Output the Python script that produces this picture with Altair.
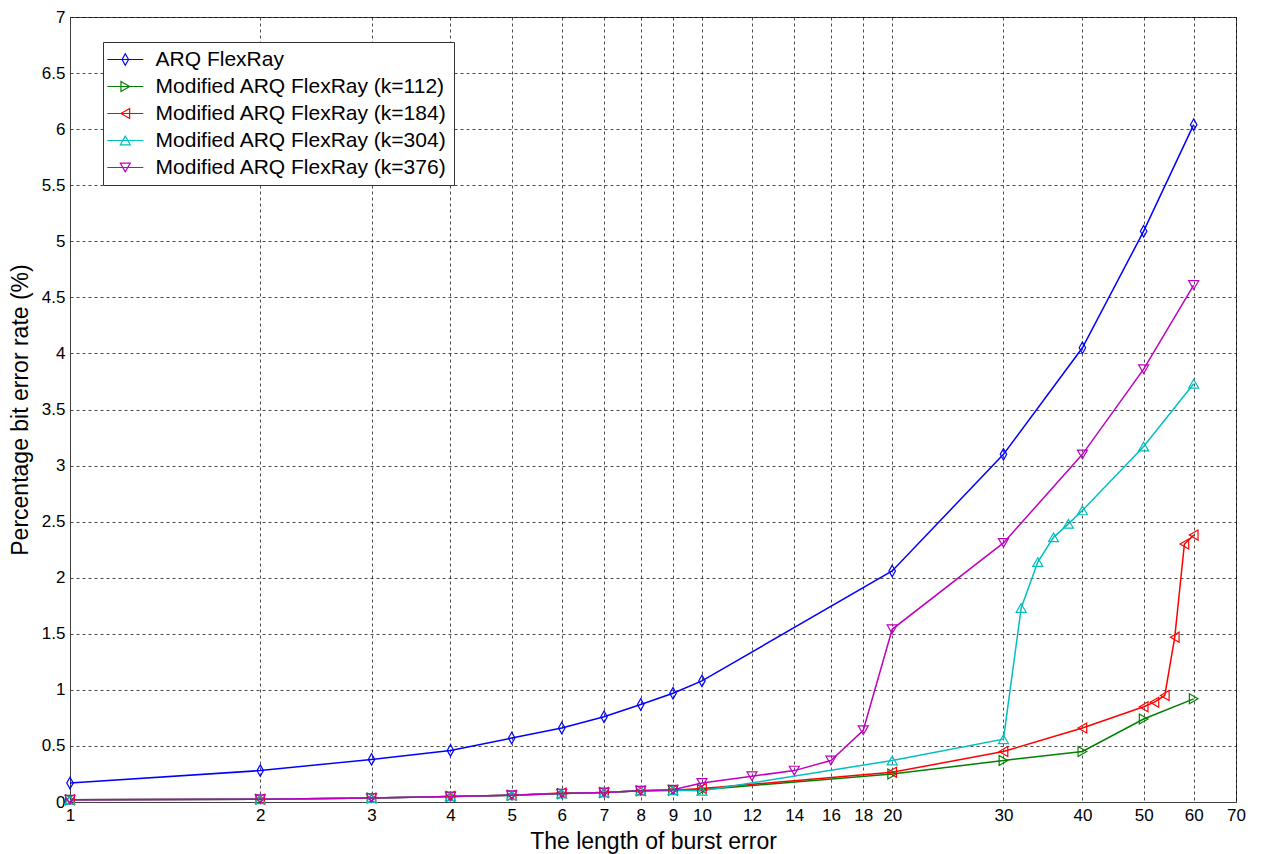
import altair as alt
import pandas as pd

series_names = [
    "ARQ FlexRay",
    "Modified ARQ FlexRay (k=112)",
    "Modified ARQ FlexRay (k=184)",
    "Modified ARQ FlexRay (k=304)",
    "Modified ARQ FlexRay (k=376)",
]
series_colors = ["#0000FF", "#008000", "#FF0000", "#00BFBF", "#BF00BF"]
series_shapes = [
    "M0,-1.15L0.65,0L0,1.15L-0.65,0Z",
    "triangle-right",
    "triangle-left",
    "triangle-up",
    "triangle-down",
]

x_arq = [1, 2, 3, 4, 5, 6, 7, 8, 9, 10, 20, 30, 40, 50, 60]
y_arq = [0.17, 0.28, 0.38, 0.46, 0.57, 0.66, 0.76, 0.87, 0.97, 1.08, 2.06, 3.10, 4.05, 5.09, 6.04]

x_k112 = [1, 2, 3, 4, 5, 6, 7, 8, 9, 10, 20, 30, 40, 50, 60]
y_k112 = [0.02, 0.025, 0.035, 0.05, 0.06, 0.075, 0.085, 0.10, 0.105, 0.11, 0.25, 0.37, 0.45, 0.74, 0.92]

x_k184 = [1, 2, 3, 4, 5, 6, 7, 8, 9, 10, 20, 30, 40, 50, 52, 54, 56, 58, 60]
y_k184 = [0.02, 0.025, 0.035, 0.05, 0.06, 0.08, 0.085, 0.10, 0.105, 0.12, 0.265, 0.45, 0.66, 0.85, 0.89, 0.95, 1.47, 2.30, 2.38]

x_k304 = [1, 2, 3, 4, 5, 6, 7, 8, 9, 10, 20, 30, 32, 34, 36, 38, 40, 50, 60]
y_k304 = [0.02, 0.025, 0.035, 0.05, 0.06, 0.075, 0.085, 0.10, 0.105, 0.10, 0.37, 0.56, 1.73, 2.14, 2.36, 2.48, 2.60, 3.17, 3.73]

x_k376 = [1, 2, 3, 4, 5, 6, 7, 8, 9, 10, 12, 14, 16, 18, 20, 30, 40, 50, 60]
y_k376 = [0.02, 0.025, 0.035, 0.05, 0.06, 0.075, 0.085, 0.10, 0.11, 0.17, 0.23, 0.28, 0.37, 0.64, 1.54, 2.31, 3.10, 3.86, 4.61]

x_ticks = [1, 2, 3, 4, 5, 6, 7, 8, 9, 10, 12, 14, 16, 18, 20, 30, 40, 50, 60, 70]
y_ticks = [0, 0.5, 1, 1.5, 2, 2.5, 3, 3.5, 4, 4.5, 5, 5.5, 6, 6.5, 7]

all_x = [x_arq, x_k112, x_k184, x_k304, x_k376]
all_y = [y_arq, y_k112, y_k184, y_k304, y_k376]

rows = []
for name, xs, ys in zip(series_names, all_x, all_y):
    for xv, yv in zip(xs, ys):
        rows.append({"series": name, "series_p": name, "x": xv, "y": yv})
df = pd.DataFrame(rows)

FONT = "Liberation Sans"
MARKER_SIZE = 100

x_enc = alt.X(
    "x:Q",
    scale=alt.Scale(type="log", domain=[1, 70], nice=False),
    axis=alt.Axis(
        values=x_ticks,
        title="The length of burst error",
        labelExpr="format(datum.value, 'd')",
        labelOverlap=False,
        labelFlush=False,
        ticks=False,
        grid=True,
        titleY=46,
        titleBaseline="alphabetic",
    ),
)
y_enc = alt.Y(
    "y:Q",
    scale=alt.Scale(domain=[0, 7], nice=False),
    axis=alt.Axis(
        values=y_ticks,
        title="Percentage bit error rate (%)",
        format="~g",
        labelFlush=False,
        labelOverlap=False,
        ticks=False,
        grid=True,
        titleX=-50,
        titleBaseline="middle",
    ),
)

common_leg = dict(
    orient="none",
    legendX=33,
    legendY=25,
    title=None,
    padding=7,
    symbolSize=MARKER_SIZE,
    symbolStrokeWidth=1.2,
    symbolOffset=4.8,
    labelOffset=19.8,
    labelFontSize=21,
    labelFont=FONT,
    labelLimit=500,
    rowPadding=5,
)

leg_lines = alt.Legend(
    strokeColor="#333333",
    fillColor="white",
    symbolType="M-3.6,0H3.6",
    labelColor="black",
    **common_leg,
)
leg_points = alt.Legend(
    strokeColor="transparent",
    fillColor="transparent",
    labelOpacity=0,
    **common_leg,
)

lines = alt.Chart(df).mark_line(strokeWidth=1.5).encode(
    x=x_enc,
    y=y_enc,
    color=alt.Color("series:N", scale=alt.Scale(domain=series_names, range=series_colors), legend=leg_lines),
    order=alt.Order("x:Q"),
)
points = alt.Chart(df).mark_point(filled=False, size=MARKER_SIZE, strokeWidth=1.2, opacity=1).encode(
    x=x_enc,
    y=y_enc,
    color=alt.Color("series_p:N", scale=alt.Scale(domain=series_names, range=series_colors), legend=leg_points),
    shape=alt.Shape("series_p:N", scale=alt.Scale(domain=series_names, range=series_shapes), legend=leg_points),
)

chart = (
    alt.layer(lines, points)
    .resolve_scale(color="independent", shape="independent")
    .properties(
        width=1166,
        height=785,
        autosize=alt.AutoSizeParams(type="none"),
        padding={"left": 70, "top": 17, "right": 27, "bottom": 52},
        background="white",
    )
    .configure_axis(
        labelFont=FONT,
        titleFont=FONT,
        labelFontSize=17,
        titleFontSize=23,
        titleFontWeight="normal",
        labelColor="black",
        titleColor="black",
        gridColor="black",
        gridDash=[3, 3],
        gridOpacity=0.7,
        gridWidth=1,
        domainColor="#404040",
        labelPadding=5,
    )
    .configure_view(stroke="#404040", strokeWidth=1)
)

chart.save("out.html", embed_options={"renderer": "svg", "actions": False})
